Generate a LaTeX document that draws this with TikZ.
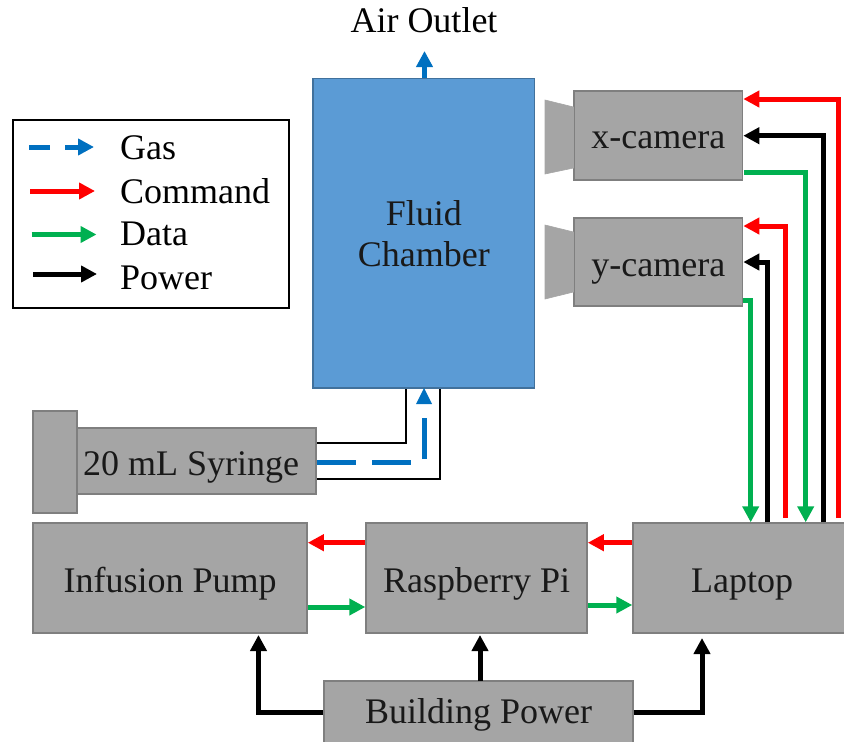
\documentclass[tikz,border=0pt]{standalone}
\usepackage{fontspec}
\setmainfont{Liberation Serif}
\usetikzlibrary{arrows.meta}
\definecolor{boxgray}{HTML}{A5A5A5}
\definecolor{boxedge}{HTML}{7F7F7F}
\definecolor{chamber}{HTML}{5B9BD5}
\definecolor{chamberedge}{HTML}{41719C}
\definecolor{gasblue}{HTML}{0070C0}
\definecolor{cmdred}{HTML}{FF0000}
\definecolor{datagreen}{HTML}{00B050}
\tikzset{
  graybox/.style={draw=boxedge,fill=boxgray,line width=1.5pt,inner sep=0pt,font=\fontsize{36}{42}\selectfont,text=black!90,text height=28pt,text depth=0pt},
  flow/.style={line width=5pt,-{Triangle[length=16pt,width=16pt]},miter limit=10},
  cmd/.style={flow,draw=cmdred},
  dat/.style={flow,draw=datagreen},
  pow/.style={flow,draw=black},
  gasline/.style={flow,draw=gasblue},
  tube/.style={draw=black,line width=2.2pt},
  legendtext/.style={font=\fontsize{36}{42}\selectfont,anchor=base west,inner sep=0pt},
}
\newcommand{\boxat}[7][]{\node[graybox,minimum width=#5 pt-#3 pt,minimum height=#6 pt-#4 pt,anchor=north west,#1] (#2) at (#3-0.7,#4-0.7) {#7};}
\begin{document}
\begin{tikzpicture}[x=1pt,y=-1pt]
\useasboundingbox (0,0) rectangle (844,742);
% legend
\node[draw=black,line width=2pt,fill=white,minimum width=276pt,minimum height=188pt,inner sep=0pt,anchor=north west] (legend) at (11.5,118.5) {};
\coordinate (g0) at (29,147); \coordinate (g1) at (94,147);
\coordinate (c0) at (30,191); \coordinate (c1) at (95,191);
\coordinate (d0) at (31.5,234.5); \coordinate (d1) at (96.5,234.5);
\coordinate (p0) at (33,274); \coordinate (p1) at (97,274);
\draw[gasline,dash pattern=on 21pt off 15pt] (g0) -- (g1);
\draw[cmd] (c0) -- (c1);
\draw[dat] (d0) -- (d1);
\draw[pow] (p0) -- (p1);
\node[legendtext] (lg) at (120,159.5) {Gas};
\node[legendtext] (lc) at (120,203) {Command};
\node[legendtext] (ld) at (120,245.5) {Data};
\node[legendtext] (lp) at (120,289) {Power};
% chamber
\node[draw=chamberedge,fill=chamber,line width=1.5pt,minimum width=221.5pt,minimum height=309.5pt,inner sep=0pt,anchor=north west,align=center,font=\fontsize{36}{41}\selectfont,text=black!90] (fluid) at (312.4,77.5) {\rule{0pt}{26.6pt}Fluid\\Chamber};
\node[font=\fontsize{36}{42}\selectfont,inner sep=0pt,anchor=base] (air) at (424,32) {Air Outlet};
\coordinate (airtip) at (424.5,51);
\draw[gasline] (fluid.north -| airtip) -- (airtip);
% cameras
\boxat[text height=25pt]{xcam}{574}{91}{742.5}{180}{x-camera}
\boxat{ycam}{574}{218}{742.5}{306}{y-camera}
\fill[boxgray,draw=boxedge!70,line width=.6pt] (545,100) -- (573.5,107) -- (573.5,168) -- (545,174) -- cycle;
\fill[boxgray,draw=boxedge!70,line width=.6pt] (545,225) -- (573.5,232) -- (573.5,292) -- (545,299) -- cycle;
% syringe
\boxat{plunger}{33}{411}{77}{513}{}
\boxat{syringe}{77}{428}{316}{494}{20 mL Syringe\kern11pt}
% tube and gas
\coordinate (tu) at (406,443); \coordinate (tl) at (440,479);
\draw[tube] (tu -| syringe.east) -- (tu) -- (tu |- fluid.south);
\draw[tube] (tl -| syringe.east) -- (tl) -- (tl |- fluid.south);
\coordinate (gc) at (424,462);
\draw[gasblue,line width=5pt] (gc -| syringe.east) -- (356,462);
\draw[gasblue,line width=5pt] (372,462) -- (411,462);
\coordinate (gv) at (424,459);
\draw[gasblue,line width=5pt] (gv) -- (424,418);
\fill[gasblue] (424,388) -- (432,404) -- (416,404) -- cycle;
% lower boxes
\boxat{pump}{33}{523}{307}{633}{Infusion Pump}
\boxat{pi}{366}{523}{587}{633}{Raspberry Pi}
\boxat{laptop}{633}{523}{851}{633}{Laptop}
\boxat[text height=22pt]{power}{324}{681}{633}{744}{Building Power}
% camera links
\coordinate (r1) at (838.3,99); \coordinate (k1) at (823,135.7); \coordinate (g1c) at (805.7,172);
\coordinate (r2) at (785,226); \coordinate (k2) at (767.7,262); \coordinate (g2c) at (750.7,300);
\coordinate (rend) at (0,518);
\draw[cmd] (r1 |- rend) -- (r1) -- (xcam.east |- r1);
\draw[pow] (k1 |- laptop.north) -- (k1) -- (xcam.east |- k1);
\draw[dat] (744,172) -- (g1c) -- (g1c |- laptop.north);
\draw[cmd] (r2 |- rend) -- (r2) -- (ycam.east |- r2);
\draw[pow] (k2 |- laptop.north) -- (k2) -- (ycam.east |- k2);
\draw[dat] (743,300) -- (g2c) -- (g2c |- laptop.north);
% horizontal links
\coordinate (a1) at (0,542.7); \coordinate (a2) at (0,607); \coordinate (a3) at (0,605);
\draw[cmd] (pi.west |- a1) -- (pump.east |- a1);
\draw[cmd] (laptop.west |- a1) -- (pi.east |- a1);
\draw[dat] (pump.east |- a2) -- (pi.west |- a2);
\draw[dat] (pi.east |- a3) -- (laptop.west |- a3);
% power links
\coordinate (bl) at (258.5,712); \coordinate (br) at (702,712);
\coordinate (bc) at (480,681); \coordinate (tc) at (480,635);
\draw[pow] (power.west |- bl) -- (bl) -- (258.5,635);
\draw[pow] (bc) -- (tc);
\draw[pow] (power.east |- br) -- (br) -- (702,638);
\end{tikzpicture}
\end{document}
